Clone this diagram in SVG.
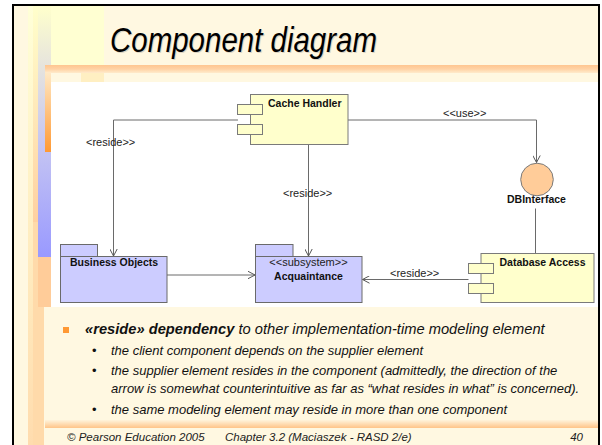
<svg xmlns="http://www.w3.org/2000/svg" width="602" height="445" viewBox="0 0 602 445">
  <defs>
    <style>
      .lbl { font-family: "Liberation Sans", Arial, sans-serif; font-size: 11px; fill: #222; }
      .name { font-family: "Liberation Sans", Arial, sans-serif; font-size: 10.5px; font-weight: bold; fill: #111; }
      .comp { fill: #FFFFCC; stroke: #7A7A7A; stroke-width: 1; }
      .pkg { fill: #CCCCFF; stroke: #6A6A6A; stroke-width: 1; }
      .edge { fill: none; stroke: #6A6A6A; stroke-width: 1; }
      .body { font-family: "Liberation Sans", Arial, sans-serif; font-style: italic; fill: #111; }
      .foot { font-family: "Liberation Sans", Arial, sans-serif; font-style: italic; font-size: 11.5px; fill: #222; }
    </style>
    <marker id="open" viewBox="0 0 8 8" refX="7.5" refY="4" markerWidth="8" markerHeight="8" markerUnits="userSpaceOnUse" orient="auto">
      <path d="M0.5,0.3 L7.5,4 L0.5,7.7" fill="none" stroke="#555" stroke-width="1"/>
    </marker>
    <linearGradient id="colA" x1="0" y1="0" x2="0" y2="1">
      <stop offset="0" stop-color="#FFFFD8"/>
      <stop offset="0.45" stop-color="#FFF0C4"/>
      <stop offset="1" stop-color="#FFDCAE"/>
    </linearGradient>
    <linearGradient id="colB" x1="0" y1="0" x2="0" y2="1">
      <stop offset="0" stop-color="#FFFFCC"/>
      <stop offset="0.5" stop-color="#FFE8B8"/>
      <stop offset="1" stop-color="#FFD0A0"/>
    </linearGradient>
    <linearGradient id="lav" x1="0" y1="0" x2="0" y2="1">
      <stop offset="0" stop-color="#FFFFCC"/>
      <stop offset="0.22" stop-color="#E8E6DC"/>
      <stop offset="0.55" stop-color="#C6C6F2"/>
      <stop offset="1" stop-color="#9999FF"/>
    </linearGradient>
    <linearGradient id="orng" x1="0" y1="0" x2="0" y2="1">
      <stop offset="0" stop-color="#FFE8C4"/>
      <stop offset="1" stop-color="#FF9933"/>
    </linearGradient>
    <linearGradient id="barTop" x1="0" y1="0" x2="0" y2="1">
      <stop offset="0" stop-color="#FFC690"/>
      <stop offset="0.5" stop-color="#FFD2A4"/>
      <stop offset="1" stop-color="#FFEBCB"/>
    </linearGradient>
    <linearGradient id="barBot" x1="0" y1="0" x2="0" y2="1">
      <stop offset="0" stop-color="#FFF4DC"/>
      <stop offset="1" stop-color="#FFC488"/>
    </linearGradient>
  </defs>

  <!-- slide background and frame -->
  <rect x="0" y="0" width="602" height="445" fill="#FFFFFF"/>
  <rect x="13" y="5" width="586" height="460" fill="#FFF8E1" stroke="#000" stroke-width="2"/>

  <!-- decorative left stripes -->
  <rect x="28" y="6" width="76" height="59" fill="#FFFFD2"/>
  <rect x="81" y="73" width="23" height="9" fill="#FFEFC2"/>
  <rect x="28" y="6" width="5" height="439" fill="url(#colA)"/>
  <rect x="33" y="6" width="5" height="216" fill="url(#colB)"/>
  <rect x="33" y="222" width="11" height="223" fill="#FFDAAA"/>
  <rect x="38" y="6" width="13" height="251" fill="url(#lav)"/>
  <rect x="45" y="73" width="6" height="79" fill="url(#orng)"/>
  <rect x="38" y="257" width="13" height="50" fill="#FFCC99"/>

  <!-- title with a soft drop shadow -->
  <text x="111" y="53" font-family="Liberation Sans, Arial, sans-serif" font-style="italic" font-size="35" fill="#DCD4C2" textLength="267" lengthAdjust="spacingAndGlyphs">Component diagram</text>
  <text x="110" y="52" font-family="Liberation Sans, Arial, sans-serif" font-style="italic" font-size="35" fill="#000" textLength="267" lengthAdjust="spacingAndGlyphs">Component diagram</text>

  <!-- rule under the title -->
  <rect x="45" y="65" width="553" height="8" fill="url(#barTop)"/>

  <!-- diagram canvas -->
  <rect x="51" y="82" width="547" height="225" fill="#FFFFFF"/>

  <!-- connectors -->
  <g id="connectors">
    <polyline class="edge" points="238,120 113.5,120 113.5,256" marker-end="url(#open)"/>
    <text class="lbl" x="86" y="146">&lt;reside&gt;&gt;</text>
    <polyline class="edge" points="308.5,144.5 308.5,256" marker-end="url(#open)"/>
    <text class="lbl" x="283" y="197">&lt;reside&gt;&gt;</text>
    <polyline class="edge" points="348,120 536.5,120 536.5,162.5" marker-end="url(#open)"/>
    <text class="lbl" x="443" y="117">&lt;&lt;use&gt;&gt;</text>
    <line class="edge" x1="535.5" y1="208.5" x2="535.5" y2="253.5"/>
    <polyline class="edge" points="167,275 255,275" marker-end="url(#open)"/>
    <polyline class="edge" points="468.5,279.5 362.5,279.5" marker-end="url(#open)"/>
    <text class="lbl" x="390" y="276.5">&lt;reside&gt;&gt;</text>
  </g>

  <!-- Cache Handler component -->
  <g id="cache-handler">
    <rect class="comp" x="250.5" y="94.5" width="97.5" height="50"/>
    <rect class="comp" x="237.5" y="104.5" width="25" height="10"/>
    <rect class="comp" x="237.5" y="124.5" width="25" height="10"/>
    <text class="name" x="268" y="106.5">Cache Handler</text>
  </g>

  <!-- DBInterface interface -->
  <g id="db-interface">
    <circle cx="537" cy="179.5" r="16.3" fill="#FFCC99" stroke="#7A7A7A" stroke-width="1"/>
    <text class="name" x="507" y="203">DBInterface</text>
  </g>

  <!-- Database Access component -->
  <g id="database-access">
    <rect class="comp" x="481" y="253.5" width="113" height="49"/>
    <rect class="comp" x="468.5" y="263.5" width="25" height="10"/>
    <rect class="comp" x="468.5" y="283.5" width="25" height="10"/>
    <text class="name" x="499.5" y="265.5">Database Access</text>
  </g>

  <!-- Business Objects package -->
  <g id="business-objects">
    <rect class="pkg" x="60.5" y="244.5" width="37" height="12"/>
    <rect class="pkg" x="60.5" y="256.5" width="106.5" height="46"/>
    <text class="name" x="70" y="266">Business Objects</text>
  </g>

  <!-- Acquaintance subsystem package -->
  <g id="acquaintance">
    <rect class="pkg" x="255.5" y="244.5" width="37.5" height="12"/>
    <rect class="pkg" x="255.5" y="256.5" width="106.5" height="46"/>
    <text class="lbl" x="308.5" y="265.5" text-anchor="middle">&lt;&lt;subsystem&gt;&gt;</text>
    <text class="name" x="308.5" y="279.5" text-anchor="middle">Acquaintance</text>
  </g>

  <!-- bullet text -->
  <rect x="63" y="327" width="6" height="6" fill="#FF9933"/>
  <text class="body" x="85" y="334" font-size="14.7"><tspan font-weight="bold">«reside» dependency</tspan> to other implementation-time modeling element</text>
  <g class="body" font-size="13">
    <text x="92" y="355" font-style="normal">•</text>
    <text x="111" y="355">the client component depends on the supplier element</text>
    <text x="92" y="375" font-style="normal">•</text>
    <text x="111" y="375">the supplier element resides in the component (admittedly, the direction of the</text>
    <text x="111" y="393">arrow is somewhat counterintuitive as far as “what resides in what” is concerned).</text>
    <text x="92" y="414" font-style="normal">•</text>
    <text x="111" y="414">the same modeling element may reside in more than one component</text>
  </g>

  <!-- footer rule and footer -->
  <rect x="45" y="420" width="553" height="8" fill="url(#barBot)"/>
  <text class="foot" x="67" y="441">© Pearson Education 2005</text>
  <text class="foot" x="225" y="441">Chapter 3.2 (Maciaszek - RASD 2/e)</text>
  <text class="foot" x="583" y="441" text-anchor="end">40</text>
</svg>
